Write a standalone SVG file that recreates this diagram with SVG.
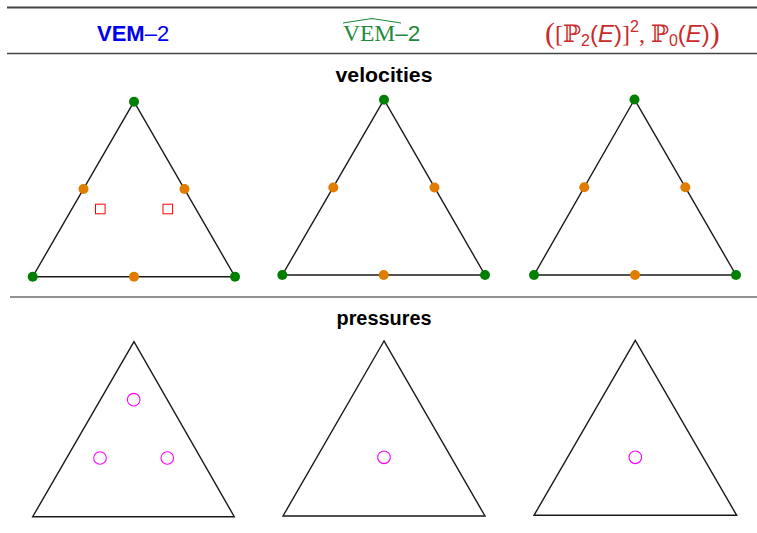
<svg xmlns="http://www.w3.org/2000/svg" width="757" height="533" viewBox="0 0 757 533">
<style>
.rule{stroke:#444;stroke-width:1.4}
.tri{fill:none;stroke:#1a1a1a;stroke-width:1.4;stroke-linejoin:miter}
.v{fill:#008000}
.e{fill:#e07d00}
.sq{fill:none;stroke:#ff0000;stroke-width:1}
.pc{fill:none;stroke:#ff00ff;stroke-width:1.1}
.lbl{font-family:"Liberation Sans",Arial,sans-serif;font-weight:bold;font-size:20px;fill:#000;text-anchor:middle}
</style>
<rect width="757" height="533" fill="#fff"/>
<g id="rules">
<line class="rule" x1="7" y1="7.5" x2="757" y2="7.5" style="stroke-width:1.8"/>
<line class="rule" x1="7" y1="53.5" x2="757" y2="53.5" style="stroke-width:1.6"/>
<line class="rule" x1="10" y1="297" x2="757" y2="297" style="stroke:#222;stroke-width:1"/>
</g>
<g id="header-vem2">
<text x="97" y="41" font-family="Liberation Sans,Arial,sans-serif" font-size="22" fill="#0000ee"><tspan font-weight="bold">VEM</tspan><tspan>–2</tspan></text>
</g>
<g id="header-vemhat">
<path d="M343 23 L372 18.5 L401 23" fill="none" stroke="#1f8a3a" stroke-width="1.2"/>
<text x="343" y="41" font-family="Liberation Serif,Times New Roman,serif" font-size="23.5" fill="#1f8a3a">VEM<tspan font-family="Liberation Sans,Arial,sans-serif" font-size="22.5">–2</tspan></text>
</g>
<g id="header-p2p0">
<text x="545" y="42" font-family="DejaVu Serif,serif" font-size="24" fill="#cc2a2a"><tspan font-size="30" font-family="Liberation Serif,serif" dy="1">(</tspan><tspan font-family="Liberation Serif,serif" dy="-1">[</tspan><tspan>ℙ</tspan><tspan font-family="Liberation Sans,sans-serif" font-size="16" dy="4">2</tspan><tspan font-family="Liberation Sans,sans-serif" dy="-4">(</tspan><tspan font-family="Liberation Sans,sans-serif" font-style="italic">E</tspan><tspan font-family="Liberation Sans,sans-serif">)</tspan><tspan font-family="Liberation Serif,serif">]</tspan><tspan font-family="Liberation Sans,sans-serif" font-size="16" dy="-10">2</tspan><tspan font-family="Liberation Serif,serif" dy="10">, </tspan><tspan>ℙ</tspan><tspan font-family="Liberation Sans,sans-serif" font-size="16" dy="4">0</tspan><tspan font-family="Liberation Sans,sans-serif" dy="-4">(</tspan><tspan font-family="Liberation Sans,sans-serif" font-style="italic">E</tspan><tspan font-family="Liberation Sans,sans-serif">)</tspan><tspan font-size="30" font-family="Liberation Serif,serif" dy="1">)</tspan></text>
</g>
<g id="label-velocities"><text class="lbl" x="384" y="82" textLength="97" lengthAdjust="spacingAndGlyphs">velocities</text></g>
<g id="label-pressures"><text class="lbl" x="384" y="325" textLength="95" lengthAdjust="spacingAndGlyphs">pressures</text></g>

<g id="vel-1">
<polygon class="tri" points="134,101.7 32.7,276.7 235,276.7"/>
<rect class="sq" x="95.5" y="204.2" width="9.6" height="9.6"/>
<rect class="sq" x="163" y="204.2" width="9.6" height="9.6"/>
<circle class="e" cx="83.5" cy="189" r="5"/>
<circle class="e" cx="184.5" cy="189" r="5"/>
<circle class="e" cx="134" cy="276.7" r="5"/>
<circle class="v" cx="134" cy="101.7" r="5"/>
<circle class="v" cx="32.7" cy="276.7" r="5"/>
<circle class="v" cx="235" cy="276.7" r="5"/>
</g>
<g id="vel-2">
<polygon class="tri" points="384,99.7 282.3,275 485,275"/>
<circle class="e" cx="333.3" cy="187.5" r="5"/>
<circle class="e" cx="434.5" cy="187.5" r="5"/>
<circle class="e" cx="383.7" cy="275" r="5"/>
<circle class="v" cx="384" cy="99.7" r="5"/>
<circle class="v" cx="282.3" cy="275" r="5"/>
<circle class="v" cx="485" cy="275" r="5"/>
</g>
<g id="vel-3">
<polygon class="tri" points="634.5,99.5 534,275 736,275"/>
<circle class="e" cx="584.3" cy="187.3" r="5"/>
<circle class="e" cx="685.3" cy="187.3" r="5"/>
<circle class="e" cx="635" cy="275" r="5"/>
<circle class="v" cx="634.5" cy="99.5" r="5"/>
<circle class="v" cx="534" cy="275" r="5"/>
<circle class="v" cx="736" cy="275" r="5"/>
</g>

<g id="pres-1">
<polygon class="tri" points="134,341.7 32.7,516.7 234.3,516.7"/>
<circle class="pc" cx="133.7" cy="399.7" r="6.3"/>
<circle class="pc" cx="100" cy="458" r="6.3"/>
<circle class="pc" cx="167.3" cy="458" r="6.3"/>
</g>
<g id="pres-2">
<polygon class="tri" points="384,341 283,516 485,516"/>
<circle class="pc" cx="384" cy="457.3" r="6.3"/>
</g>
<g id="pres-3">
<polygon class="tri" points="635.3,340.3 534,515.3 736.7,515.3"/>
<circle class="pc" cx="635.3" cy="457.3" r="6.3"/>
</g>
</svg>
